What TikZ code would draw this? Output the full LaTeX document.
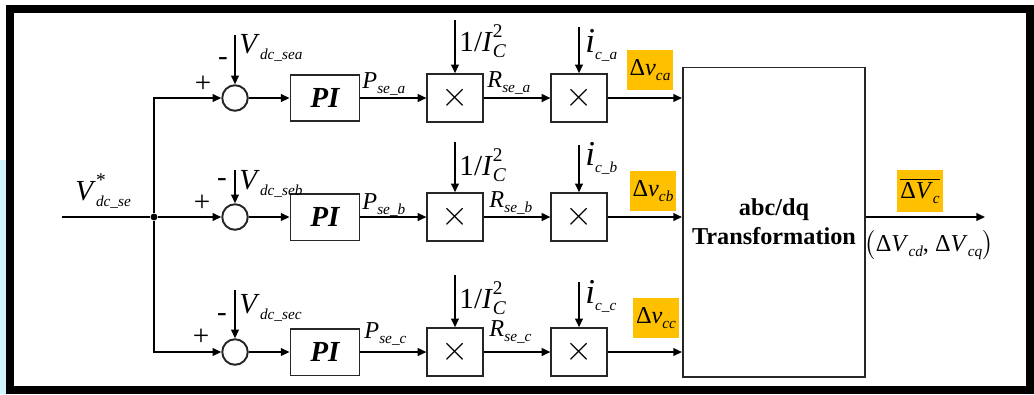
\documentclass[tikz,border=0pt]{standalone}
\usepackage{fontspec}
\setmainfont{Liberation Serif}
\usetikzlibrary{arrows.meta, positioning}
\definecolor{hlgold}{RGB}{255,192,0}
\definecolor{edgecyan}{RGB}{208,245,250}
\newcommand{\subsz}{\fontsize{6.3}{7}\selectfont}
\newcommand{\sig}[2]{\textit{#1}\raisebox{-0.45ex}{\subsz\textit{#2}}}
\newcommand{\sigsup}[3]{\textit{#1}\rlap{\raisebox{1.0ex}{\fontsize{8}{9}\selectfont #2}}\raisebox{-0.45ex}{\fontsize{8}{9}\selectfont\textit{#3}}}

\begin{document}
\begin{tikzpicture}[x=0.0145cm, y=-0.0145cm,
  >={Triangle[length=3.6pt,width=3.2pt]},
  wire/.style={line width=0.7pt},
  blkbox/.style={draw=black!85, line width=0.8pt, minimum width=1.0cm, minimum height=0.68cm, inner sep=0pt},
  mulbox/.style={blkbox, minimum width=0.8cm, minimum height=0.69cm, font=\Large},
  sumnode/.style={circle, draw=black!85, line width=0.8pt, minimum size=0.37cm, inner sep=0pt},
  hlbox/.style={fill=hlgold, minimum width=0.66cm, minimum height=0.57cm, inner sep=1pt, font=\normalsize},
  lbl/.style={inner sep=0pt, anchor=base west},
  sgn/.style={inner sep=0pt, font=\large}
]
  \useasboundingbox (0,0) rectangle (1034,394);
  \fill[edgecyan] (0,160) rectangle (6,394);
  \draw[line width=3.3pt] (10,9) rectangle (1030,390);

  % abc/dq block
  \node[draw=black!85, line width=0.8pt, minimum width=2.64cm, minimum height=4.48cm, align=center, font=\bfseries] (trf) at (774,222) {abc/dq\\Transformation};

  % input and branch point
  \coordinate (vin) at (62,217);
  \node[circle, fill, inner sep=0pt, minimum size=0.1cm] (jn) at (154,217) {};
  \node[lbl] (vinl) at (75,200) {\large\sigsup{V}{*}{\subsz dc\_se}};

  % row a
  \node[sumnode] (suma) at (235,98) {};
  \node[blkbox, font=\large\bfseries\itshape] (pia) at (325,98) {PI};
  \node[mulbox] (mra) at (455,98) {$\times$};
  \node[mulbox] (mva) at (579,98) {$\times$};
  \node[sgn] (pa) at (203,84) {+};
  \node[sgn] (ma) at (223,62) {-};
  \coordinate (vsa) at (235,35);
  \coordinate (ica) at (455,20);
  \coordinate (iia) at (579,27);
  \node[lbl] (vsal) at (239,53) {\large\sig{V}{dc\_sea}};
  \node[lbl] (psal) at (362,88) {\normalsize\sig{P}{se\_a}};
  \node[lbl] (rsal) at (487,87) {\normalsize\sig{R}{se\_a}};
  \node[lbl] (ical) at (459,51) {\large 1/\sigsup{I}{2}{C}};
  \node[lbl] (iial) at (585,52) {\Large\sig{i}{c\_a}};
  \node[hlbox] (dva) at (650,70) {Δ\sig{v}{ca}};

  % row b
  \node[sumnode] (sumb) at (235,217) {};
  \node[blkbox, font=\large\bfseries\itshape] (pib) at (325,217) {PI};
  \node[mulbox] (mrb) at (455,217) {$\times$};
  \node[mulbox] (mvb) at (579,217) {$\times$};
  \node[sgn] (pb) at (202,203) {+};
  \node[sgn] (mb) at (222,183) {-};
  \coordinate (vsb) at (235,170);
  \coordinate (icb) at (455,142);
  \coordinate (iib) at (579,145);
  \node[lbl] (vsbl) at (239,189) {\large\sig{V}{dc\_seb}};
  \node[lbl] (psbl) at (362,209) {\normalsize\sig{P}{se\_b}};
  \node[lbl] (rsbl) at (489,207) {\normalsize\sig{R}{se\_b}};
  \node[lbl] (icbl) at (459,175) {\large 1/\sigsup{I}{2}{C}};
  \node[lbl] (iibl) at (585,165) {\Large\sig{i}{c\_b}};
  \node[hlbox] (dvb) at (653,191) {Δ\sig{v}{cb}};

  % row c
  \node[sumnode] (sumc) at (235,352) {};
  \node[blkbox, font=\large\bfseries\itshape] (pic) at (325,352) {PI};
  \node[mulbox] (mrc) at (455,352) {$\times$};
  \node[mulbox] (mvc) at (579,352) {$\times$};
  \node[sgn] (pc) at (201,337) {+};
  \node[sgn] (mc) at (222,318) {-};
  \coordinate (vsc) at (235,290);
  \coordinate (icc) at (455,275);
  \coordinate (iic) at (579,282);
  \node[lbl] (vscl) at (239,313) {\large\sig{V}{dc\_sec}};
  \node[lbl] (pscl) at (364,338) {\normalsize\sig{P}{se\_c}};
  \node[lbl] (rscl) at (489,336) {\normalsize\sig{R}{se\_c}};
  \node[lbl] (iccl) at (459,308) {\large 1/\sigsup{I}{2}{C}};
  \node[lbl] (iicl) at (585,303) {\Large\sig{i}{c\_c}};
  \node[hlbox] (dvc) at (656,318) {Δ\sig{v}{cc}};

  % connectors
  \draw[wire] (vin) -- (jn);
  \draw[wire,->] (jn) |- (suma.west);
  \draw[wire,->] (jn) -- (sumb.west);
  \draw[wire,->] (jn) |- (sumc.west);
  \draw[wire,->] (vsa) -- (suma.north);
  \draw[wire,->] (vsb) -- (sumb.north);
  \draw[wire,->] (vsc) -- (sumc.north);
  \draw[wire,->] (suma) -- (pia);
  \draw[wire,->] (sumb) -- (pib);
  \draw[wire,->] (sumc) -- (pic);
  \draw[wire,->] (pia) -- (mra);
  \draw[wire,->] (pib) -- (mrb);
  \draw[wire,->] (pic) -- (mrc);
  \draw[wire,->] (ica) -- (mra.north);
  \draw[wire,->] (icb) -- (mrb.north);
  \draw[wire,->] (icc) -- (mrc.north);
  \draw[wire,->] (mra) -- (mva);
  \draw[wire,->] (mrb) -- (mvb);
  \draw[wire,->] (mrc) -- (mvc);
  \draw[wire,->] (iia) -- (mva.north);
  \draw[wire,->] (iib) -- (mvb.north);
  \draw[wire,->] (iic) -- (mvc.north);
  \draw[wire,->] (mva.east) -- (mva.east -| trf.west);
  \draw[wire,->] (mvb.east) -- (mvb.east -| trf.west);
  \draw[wire,->] (mvc.east) -- (mvc.east -| trf.west);

  % output
  \coordinate (vout) at (985,217);
  \draw[wire,->] (trf.east |- vout) -- (vout);
  \node[hlbox, minimum width=0.67cm, minimum height=0.62cm] (dvcl) at (920,191) {$\overline{\hbox{Δ\sig{V}{c}}}$};
  \node[inner sep=0pt, font=\normalsize] (dqo) at (929,245) {$\left(\hbox{Δ\sig{V}{cd}, Δ\sig{V}{cq}}\right)$};
\end{tikzpicture}
\end{document}
